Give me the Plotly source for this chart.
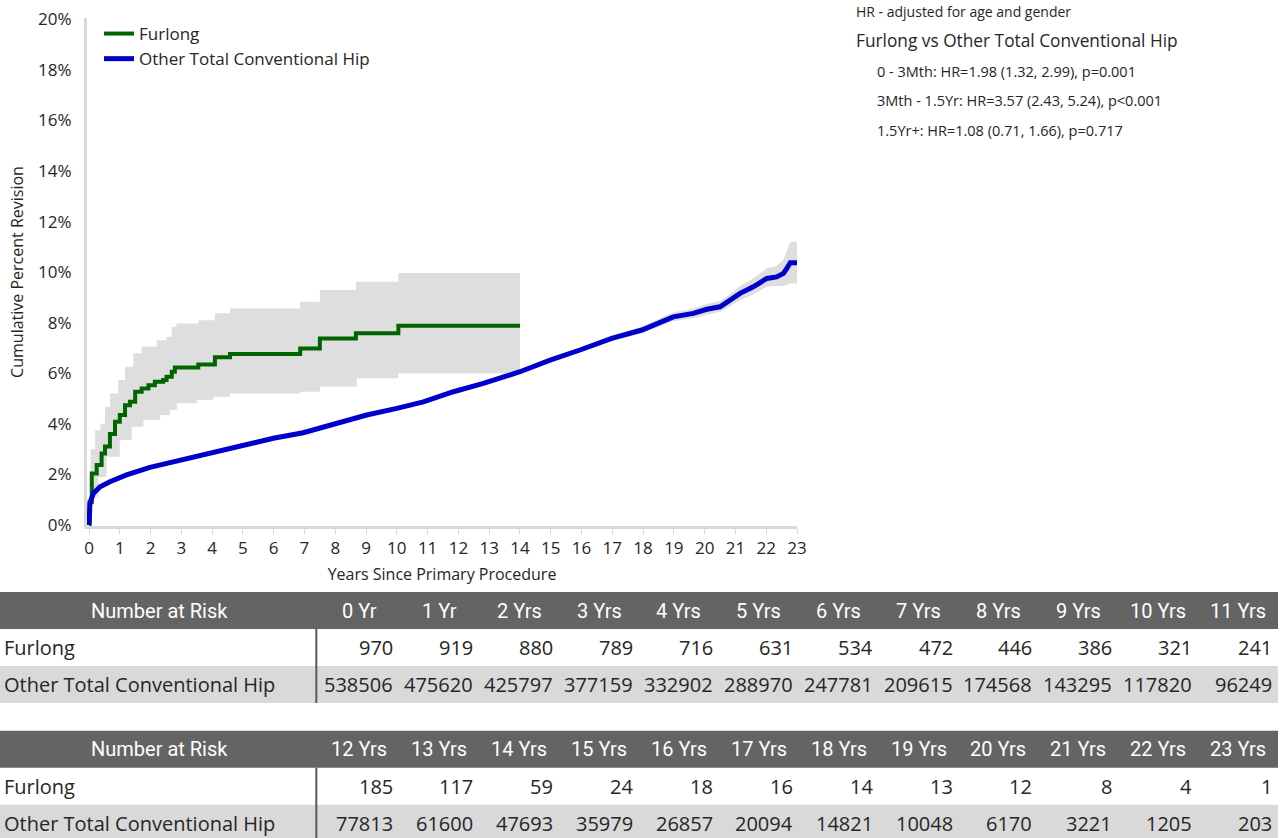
import plotly.graph_objects as go

# ---------------- data ----------------
furlong_t = [0, 0.02, 0.09, 0.25, 0.41, 0.52, 0.68, 0.845, 1.0, 1.17, 1.33, 1.5, 1.71, 1.93, 2.14,
             2.41, 2.52, 2.69, 2.79, 3.55, 4.09, 4.58, 6.86, 7.5, 8.67, 10.05, 14.0]
furlong_v = [0, 0.9, 2.04, 2.37, 2.83, 3.1, 3.6, 4.08, 4.35, 4.74, 4.87, 5.27, 5.4, 5.53, 5.66,
             5.73, 5.86, 6.06, 6.23, 6.35, 6.63, 6.76, 6.98, 7.38, 7.58, 7.88, 7.88]
furlong_up_t = [0, 0.05, 0.2, 0.37, 0.52, 0.68, 0.95, 1.17, 1.44, 1.71, 2.2, 2.52, 2.69, 2.84,
                3.55, 4.09, 4.58, 6.86, 7.5, 8.67, 10.05, 14.0]
furlong_up_v = [0, 3.0, 3.75, 4.0, 4.68, 5.2, 5.73, 6.26, 6.79, 7.05, 7.31, 7.44, 7.84, 7.97,
                8.1, 8.37, 8.56, 8.83, 9.29, 9.62, 9.97, 9.97]
furlong_lo_t = [0, 0.09, 0.3, 0.57, 1.0, 1.39, 1.77, 2.31, 2.63, 2.85, 3.5, 4.04, 4.58, 6.86,
                7.5, 8.7, 10.05, 14.0]
furlong_lo_v = [0, 1.12, 1.9, 2.7, 3.36, 3.89, 4.15, 4.35, 4.55, 4.81, 4.94, 5.07, 5.2, 5.27,
                5.47, 5.8, 6.0, 6.23]

other_t = [0, 0.03, 0.14, 0.36, 0.68, 1.22, 1.98, 2.96, 4.04, 4.9, 5.99, 6.96, 8.05, 9.02, 10.0,
           10.86, 11.84, 12.81, 14.0, 14.98, 15.95, 16.98, 17.96, 18.44, 18.98, 19.63, 20.07,
           20.5, 20.77, 21.15, 21.58, 22.02, 22.34, 22.56, 22.67, 22.78, 23.04]
other_v = [0, 0.86, 1.25, 1.51, 1.71, 1.98, 2.28, 2.57, 2.86, 3.1, 3.43, 3.65, 4.0, 4.35, 4.61,
           4.87, 5.27, 5.6, 6.06, 6.52, 6.92, 7.38, 7.71, 7.97, 8.23, 8.37, 8.53,
           8.63, 8.83, 9.16, 9.42, 9.75, 9.81, 9.95, 10.15, 10.37, 10.37]
other_lo = [0, 0.83, 1.22, 1.48, 1.68, 1.95, 2.25, 2.54, 2.83, 3.07, 3.40, 3.62, 3.96, 4.31, 4.57,
            4.82, 5.22, 5.54, 6.0, 6.45, 6.84, 7.28, 7.58, 7.82, 8.06, 8.18, 8.32,
            8.43, 8.6, 8.9, 9.12, 9.42, 9.45, 9.45, 9.5, 9.55, 9.55]
other_up = [0, 0.89, 1.28, 1.54, 1.74, 2.01, 2.31, 2.60, 2.89, 3.13, 3.46, 3.68, 4.04, 4.39, 4.65,
            4.92, 5.32, 5.66, 6.12, 6.59, 7.0, 7.48, 7.84, 8.12, 8.40, 8.56, 8.74,
            8.85, 9.08, 9.45, 9.75, 10.15, 10.25, 10.5, 10.85, 11.2, 11.2]

series_names = ["Furlong", "Other Total Conventional Hip"]

y_ticks = [0, 2, 4, 6, 8, 10, 12, 14, 16, 18, 20]
y_tick_labels = ["0%", "2%", "4%", "6%", "8%", "10%", "12%", "14%", "16%", "18%", "20%"]

risk_years_1 = ["0 Yr", "1 Yr", "2 Yrs", "3 Yrs", "4 Yrs", "5 Yrs", "6 Yrs", "7 Yrs", "8 Yrs",
                "9 Yrs", "10 Yrs", "11 Yrs"]
risk_furlong_1 = [970, 919, 880, 789, 716, 631, 534, 472, 446, 386, 321, 241]
risk_other_1 = [538506, 475620, 425797, 377159, 332902, 288970, 247781, 209615, 174568, 143295,
                117820, 96249]
risk_years_2 = ["12 Yrs", "13 Yrs", "14 Yrs", "15 Yrs", "16 Yrs", "17 Yrs", "18 Yrs", "19 Yrs",
                "20 Yrs", "21 Yrs", "22 Yrs", "23 Yrs"]
risk_furlong_2 = [185, 117, 59, 24, 18, 16, 14, 13, 12, 8, 4, 1]
risk_other_2 = [77813, 61600, 47693, 35979, 26857, 20094, 14821, 10048, 6170, 3221, 1205, 203]

hr_lines = ["0 - 3Mth: HR=1.98 (1.32, 2.99), p=0.001",
            "3Mth - 1.5Yr: HR=3.57 (2.43, 5.24), p<0.001",
            "1.5Yr+: HR=1.08 (0.71, 1.66), p=0.717"]

# ---------------- styles ----------------
FONT = "Open Sans"
HFONT = "Roboto"
TXT = "#262626"
GREEN = "#006400"
BLUE = "#0000CD"
BAND = "rgb(222,222,222)"
AXIS = "#d9d9d9"
W, H = 1282, 838

fig = go.Figure()

# confidence bands
fig.add_trace(go.Scatter(x=furlong_lo_t, y=furlong_lo_v, mode="lines", line=dict(width=0, shape="hv"),
                         showlegend=False, hoverinfo="skip"))
fig.add_trace(go.Scatter(x=furlong_up_t, y=furlong_up_v, mode="lines", line=dict(width=0, shape="hv"),
                         fill="tonexty", fillcolor=BAND, showlegend=False, hoverinfo="skip"))
fig.add_trace(go.Scatter(x=other_t, y=other_lo, mode="lines", line=dict(width=0),
                         showlegend=False, hoverinfo="skip"))
fig.add_trace(go.Scatter(x=other_t, y=other_up, mode="lines", line=dict(width=0),
                         fill="tonexty", fillcolor=BAND, showlegend=False, hoverinfo="skip"))
# curves
fig.add_trace(go.Scatter(x=furlong_t, y=furlong_v, mode="lines", name=series_names[0],
                         line=dict(color=GREEN, width=4, shape="hv")))
fig.add_trace(go.Scatter(x=other_t, y=other_v, mode="lines", name=series_names[1],
                         line=dict(color=BLUE, width=5)))

# main axes geometry (pixels -> paper)
x0_px, x1_px = 87, 797
y_bot_px, y_top_px = 526, 18
fig.update_layout(
    template="none",
    width=W, height=H, margin=dict(l=0, r=0, t=0, b=0, autoexpand=False),
    paper_bgcolor="white", plot_bgcolor="white",
    font=dict(family=FONT, color=TXT),
    xaxis=dict(domain=[x0_px / W, x1_px / W], range=[-0.065, 23.0], tickmode="linear", tick0=0, dtick=1,
               showgrid=False, zeroline=False, showline=True, linecolor=AXIS, linewidth=3,
               ticks="outside", ticklen=5, tickcolor=AXIS, tickwidth=1, automargin=False,
               tickfont=dict(size=17, color=TXT),
               title=dict(text="Years Since Primary Procedure", font=dict(size=16, color=TXT), standoff=11)),
    yaxis=dict(domain=[(H - y_bot_px) / H, (H - y_top_px) / H], range=[-0.04, 20.05],
               tickmode="array", tickvals=y_ticks, ticktext=y_tick_labels, automargin=False,
               showgrid=False, zeroline=False, showline=True, linecolor=AXIS, linewidth=3,
               ticks="", ticklabelstandoff=9, tickfont=dict(size=17, color=TXT),
               title=dict(text="Cumulative Percent Revision", font=dict(size=16, color=TXT), standoff=11)),
    legend=dict(x=99 / W, y=(H - 16) / H, xanchor="left", yanchor="top", bgcolor="rgba(0,0,0,0)",
                font=dict(size=17, color=TXT), tracegroupgap=0, itemwidth=30, traceorder="normal"),
    showlegend=True,
)

# HR annotations
fig.add_annotation(x=854 / W, y=(H - 12) / H, xref="paper", yref="paper", xanchor="left", yanchor="middle",
                   text="HR - adjusted for age and gender", showarrow=False, font=dict(size=14, color=TXT))
fig.add_annotation(x=854 / W, y=(H - 41) / H, xref="paper", yref="paper", xanchor="left", yanchor="middle",
                   text="Furlong vs Other Total Conventional Hip", showarrow=False, font=dict(size=17.3, color=TXT))
for i, t in enumerate(hr_lines):
    fig.add_annotation(x=875 / W, y=(H - 71 - 29.5 * i) / H, xref="paper", yref="paper", xanchor="left",
                       yanchor="middle", text=t, showarrow=False, font=dict(size=14.5, color=TXT))

# ---------------- number-at-risk tables on second axis pair ----------------
# x2: label column spans [-4, 0], data column i spans [i, i+1]; y2: row units, reversed
fig.update_layout(
    xaxis2=dict(domain=[0, 1], range=[-4, 12.05], visible=False, fixedrange=True, anchor="y2",
                automargin=False),
    yaxis2=dict(domain=[0, (H - 592) / H], range=[6.65, 0], visible=False, fixedrange=True, anchor="x2",
                automargin=False),
)
HEAD = "#646464"
ROWG = "#d9d9d9"
tables = [(0.0, risk_years_1, risk_furlong_1, risk_other_1),
          (3.75, risk_years_2, risk_furlong_2, risk_other_2)]
ncol = len(risk_years_1)
for top, years, fur, oth in tables:
    fig.add_shape(type="rect", xref="x2", yref="y2", x0=-4, x1=ncol, y0=top, y1=top + 1,
                  fillcolor=HEAD, line=dict(width=0), layer="below")
    fig.add_shape(type="rect", xref="x2", yref="y2", x0=-4, x1=ncol, y0=top + 2, y1=top + 3,
                  fillcolor=ROWG, line=dict(width=0), layer="below")
    fig.add_shape(type="line", xref="x2", yref="y2", x0=-0.04, x1=-0.04, y0=top + 1.0, y1=top + 3,
                  line=dict(color="#595959", width=2))
    fig.add_annotation(x=-2, y=top + 0.5, xref="x2", yref="y2", text="Number at Risk", showarrow=False,
                       font=dict(size=20, color="white", family=HFONT, weight=400),
                       xanchor="center", yanchor="middle")
    for r, name in enumerate(series_names):
        fig.add_annotation(x=-4, y=top + 1.5 + r, xref="x2", yref="y2", text=name, showarrow=False,
                           font=dict(size=20, color=TXT), xanchor="left", yanchor="middle", xshift=2)
    for c in range(ncol):
        fig.add_annotation(x=c + 0.5, y=top + 0.5, xref="x2", yref="y2", text=years[c], showarrow=False,
                           font=dict(size=20, color="white", family=HFONT, weight=400),
                           xanchor="center", yanchor="middle")
        for r, vals in enumerate([fur, oth]):
            fig.add_annotation(x=c + 1, y=top + 1.5 + r, xref="x2", yref="y2", text=str(vals[c]),
                               showarrow=False, font=dict(size=20, color=TXT), xanchor="right",
                               yanchor="middle", xshift=-4)

fig.write_html("out.html", config={"displayModeBar": False},
               post_script="document.body.style.margin='0';document.body.style.overflow='hidden';")
